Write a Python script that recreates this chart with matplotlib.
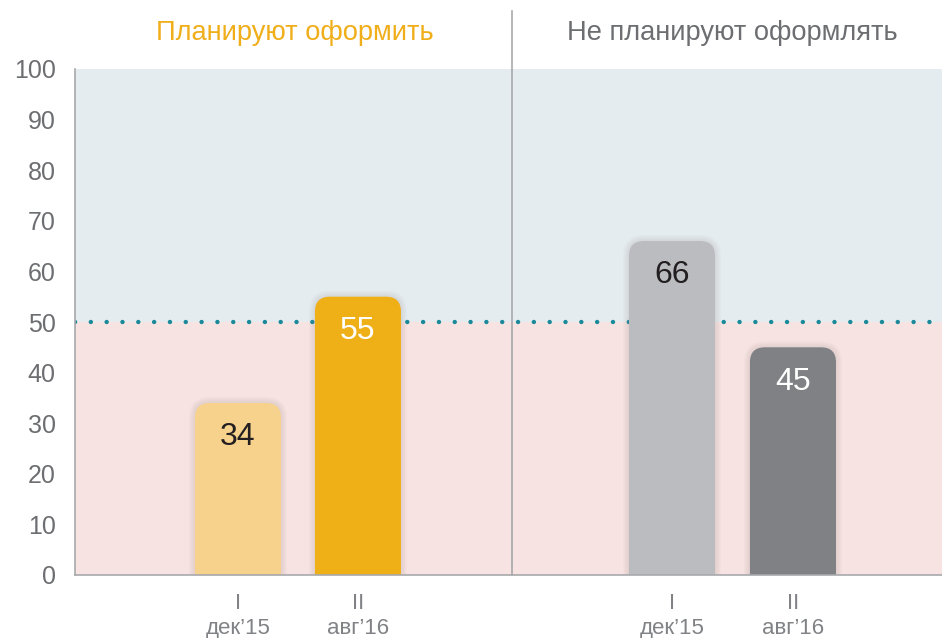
import matplotlib
matplotlib.use("Agg")
import matplotlib.pyplot as plt
from matplotlib.patches import FancyBboxPatch, Rectangle

plt.rcParams['font.family'] = ['Liberation Sans', 'DejaVu Sans']

# ---- data ----
group_titles = ["Планируют оформить", "Не планируют оформлять"]
waves = ["I", "II", "I", "II"]
dates = ["дек’15", "авг’16", "дек’15", "авг’16"]
values = [34, 55, 66, 45]
threshold = 50
y_ticks = [0, 10, 20, 30, 40, 50, 60, 70, 80, 90, 100]

# ---- style ----
bar_colors = ["#F7D28C", "#EFAF17", "#BBBCC0", "#808184"]
value_colors = ["#231F20", "#FFFFFF", "#231F20", "#FFFFFF"]
title_colors = ["#F0AE1B", "#6D6E71"]
x_pos = [1.358, 2.358, 4.975, 5.983]
title_x = [1.833, 5.48]
divider_x = 3.642
bar_w = 0.717
xmax = 7.225

W, H = 942, 638
fig = plt.figure(figsize=(W / 100, H / 100), dpi=100)
ax = fig.add_axes([75 / W, 63 / H, 1 - 75 / W, (575 - 69) / H])
ax.set_xlim(0, xmax)
ax.set_ylim(0, 100)

# background bands
ax.add_patch(Rectangle((0, 0), xmax, threshold, facecolor="#F7E3E1", edgecolor="none", zorder=0))
ax.add_patch(Rectangle((0, threshold), xmax, 100 - threshold, facecolor="#E4ECEF", edgecolor="none", zorder=0))

# dotted threshold line
ax.axhline(threshold, color="#1A8A9A", lw=3.2, linestyle=(0, (0.01, 3.55)),
           dash_capstyle="round", zorder=1)

# pixel -> data conversion factors
px_x = xmax / (W - 75)
px_y = 100 / (575 - 69)
r = 15 * px_x
aspect = (15 * px_y) / r

for xp, v, c, tc in zip(x_pos, values, bar_colors, value_colors):
    # soft shadow
    for k in range(1, 6):
        e = k * 1.2
        sh = FancyBboxPatch((xp - bar_w / 2 - e * px_x, -10), bar_w + 2 * e * px_x, v + 10 + e * px_y,
                            boxstyle=f"round,pad=0,rounding_size={r + e * px_x}",
                            mutation_aspect=aspect, facecolor="#857a7a", edgecolor="none",
                            alpha=0.03, zorder=2)
        ax.add_patch(sh)
    p = FancyBboxPatch((xp - bar_w / 2, -10), bar_w, v + 10,
                       boxstyle=f"round,pad=0,rounding_size={r}",
                       mutation_aspect=aspect, facecolor=c, edgecolor="none", zorder=3)
    ax.add_patch(p)
    ax.text(xp, v - 6.8, str(v), ha="center", va="center", fontsize=23, color=tc, zorder=4)

# divider
ax.plot([divider_x, divider_x], [0, 111.5], color="#A7A9AC", lw=1.2, clip_on=False, zorder=5)

# group titles
for tx, t, tc in zip(title_x, group_titles, title_colors):
    ax.text(tx, 107.2, t, ha="center", va="center", fontsize=19.6, color=tc, clip_on=False)

# axes styling
for s in ["top", "right"]:
    ax.spines[s].set_visible(False)
ax.spines["left"].set_color("#A7A9AC")
ax.spines["bottom"].set_color("#A7A9AC")
ax.spines["left"].set_linewidth(1.2)
ax.spines["bottom"].set_linewidth(1.2)
ax.spines["left"].set_zorder(6)
ax.spines["bottom"].set_zorder(6)

ax.set_yticks(y_ticks)
ax.set_yticklabels([str(t) for t in y_ticks], fontsize=18, color="#6D6E71")
ax.tick_params(axis="y", length=0, pad=14)

ax.set_xticks(x_pos)
ax.set_xticklabels([f"{w}\n{d}" for w, d in zip(waves, dates)], fontsize=16,
                   color="#808285", linespacing=1.25)
ax.tick_params(axis="x", length=0, pad=13)

fig.savefig("out.png", dpi=100, facecolor="white")
